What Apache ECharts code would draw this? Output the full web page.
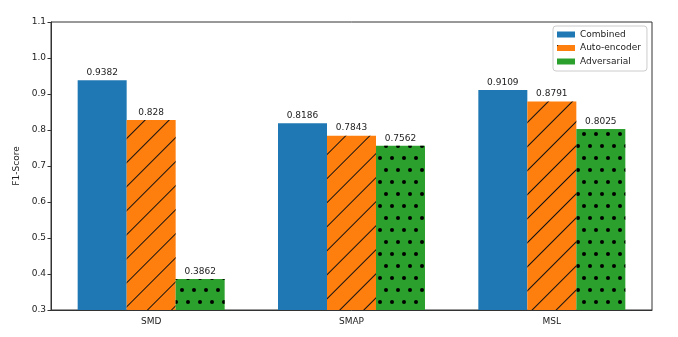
<!DOCTYPE html>
<html>
<head>
<meta charset="utf-8">
<script src="https://cdn.jsdelivr.net/npm/echarts@6/dist/echarts.min.js"></script>
<style>
html,body{margin:0;padding:0;background:#fff;}
#chart{width:678px;height:337px;}
</style>
</head>
<body>
<div id="chart"></div>
<script>
var categories = ['SMD', 'SMAP', 'MSL'];
var combined = [0.9382, 0.8186, 0.9109];
var autoEncoder = [0.828, 0.7843, 0.8791];
var adversarial = [0.3862, 0.7562, 0.8025];
var seriesNames = ['Combined', 'Auto-encoder', 'Adversarial'];
var yTicks = { min: 0.3, max: 1.1, interval: 0.1 };

var font = 'DejaVu Sans';
var chart = echarts.init(document.getElementById('chart'), null, { renderer: 'canvas' });

var hatchDecal = {
  symbol: 'rect', symbolSize: 1, color: '#111',
  dashArrayX: [1, 0], dashArrayY: [1, 15.3], rotation: -Math.PI / 4
};
var dotDecal = {
  symbol: 'circle', symbolSize: 1, color: '#000',
  dashArrayX: [[3.6, 7.4], [0, 5.5, 3.6, 1.9]], dashArrayY: [3.6, 7.1, 3.6, 7.1], rotation: 0
};

function labelCfg() {
  return { show: true, position: 'top', distance: 3, color: '#222', fontFamily: font, fontSize: 9,
    formatter: function (p) { return String(p.value); } };
}

var option = {
  animation: false,
  backgroundColor: '#fff',
  grid: { left: 51, right: 26, top: 22, bottom: 27, show: true, borderColor: '#333', borderWidth: 1, containLabel: false },
  legend: {
    orient: 'vertical', left: 553, top: 26,
    data: [
      { name: seriesNames[0] },
      { name: seriesNames[1] },
      { name: seriesNames[2], itemStyle: { decal: 'none' } }
    ],
    icon: 'rect', itemWidth: 18, itemHeight: 6, itemGap: 4.5,
    padding: [4, 6, 5, 4],
    backgroundColor: '#fff', borderColor: '#ccc', borderWidth: 1, borderRadius: 3,
    textStyle: { fontFamily: font, fontSize: 9, color: '#222' }
  },
  xAxis: {
    type: 'category', data: categories,
    axisLine: { lineStyle: { color: '#333', width: 1 } },
    axisTick: { alignWithLabel: true, length: 3.5, lineStyle: { color: '#333' } },
    axisLabel: { fontFamily: font, fontSize: 9, color: '#222', margin: 7 }
  },
  yAxis: {
    type: 'value', min: yTicks.min, max: yTicks.max, interval: yTicks.interval,
    name: 'F1-Score', nameLocation: 'middle', nameGap: 18, nameRotate: 90,
    nameTextStyle: { fontFamily: font, fontSize: 9, color: '#222' },
    axisLine: { show: true, lineStyle: { color: '#333', width: 1 } },
    axisTick: { show: true, length: 3.5, lineStyle: { color: '#333' } },
    splitLine: { show: false },
    axisLabel: { fontFamily: font, fontSize: 9, color: '#222', margin: 5,
      formatter: function (v) { return v.toFixed(1); } }
  },
  series: [
    { name: seriesNames[0], type: 'bar', data: combined, barWidth: 49, barGap: '0%',
      itemStyle: { color: '#1f77b4' }, label: labelCfg() },
    { name: seriesNames[1], type: 'bar', data: autoEncoder, barWidth: 49, barGap: '0%',
      itemStyle: { color: '#ff7f0e', decal: hatchDecal }, label: labelCfg() },
    { name: seriesNames[2], type: 'bar', data: adversarial, barWidth: 49, barGap: '0%',
      itemStyle: { color: '#2ca02c', decal: dotDecal }, label: labelCfg() }
  ]
};
chart.setOption(option);
</script>
</body>
</html>
